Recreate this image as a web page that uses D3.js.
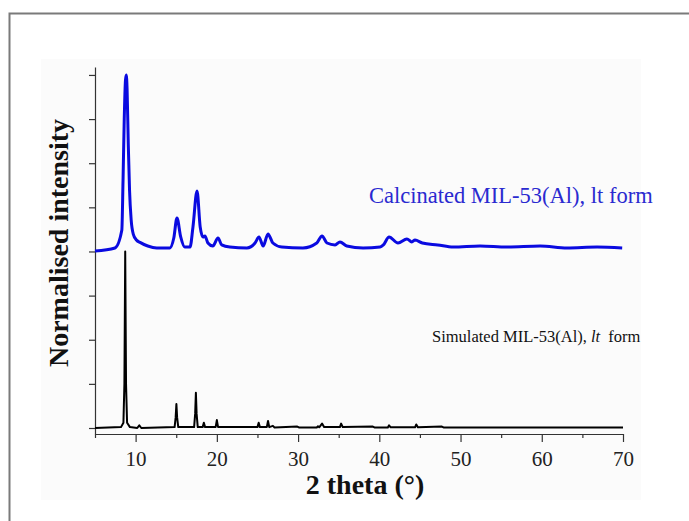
<!DOCTYPE html>
<html>
<head>
<meta charset="utf-8">
<script src="https://cdn.jsdelivr.net/npm/d3@7/dist/d3.min.js"></script>
<style>
  body { margin: 0; background: #fff; }
  svg { display: block; }
</style>
</head>
<body>
<div id="wrapper"></div>
<script>
// measured pattern points (2 theta, normalised intensity)
const calcTheta = [5.0, 7.46, 8.3, 8.45, 8.6, 8.75, 8.85, 8.95, 9.1, 9.25, 9.45, 9.7, 10.1, 10.6, 11.5, 12.6,
  14.2, 14.7, 15.09, 15.55, 16.05, 16.7, 17.06, 17.56, 17.95, 18.3, 18.54, 18.9, 19.5, 20.14, 20.6, 21.6,
  23.7, 24.7, 25.19, 25.7, 26.3, 26.9, 28.0, 30.6, 32.3, 32.95, 33.56, 34.55, 35.16, 36.0, 38.0, 40.1,
  40.5, 41.2, 42.3, 43.4, 44.0, 44.4, 45.3, 47.2, 49.1, 52.4, 55.7, 59.8, 63.1, 66.8, 69.9]
const calcIntensity = [1.003, 1.02, 1.12, 1.40, 1.75, 1.97, 2.0, 1.92, 1.6, 1.35, 1.18, 1.10, 1.065, 1.05, 1.031, 1.02,
  1.02, 1.076, 1.19, 1.082, 1.025, 1.025, 1.139, 1.343, 1.139, 1.082, 1.088, 1.048, 1.031, 1.076, 1.037, 1.025,
  1.02, 1.048, 1.082, 1.031, 1.099, 1.048, 1.025, 1.02, 1.048, 1.088, 1.048, 1.037, 1.054, 1.031, 1.02, 1.025,
  1.037, 1.082, 1.048, 1.071, 1.054, 1.065, 1.048, 1.037, 1.025, 1.031, 1.025, 1.031, 1.02, 1.025, 1.02]

const simTheta = [5.0, 8.2, 8.5, 8.62, 8.72, 8.82, 8.95, 9.3, 10.2, 10.45, 10.7, 14.8, 14.93, 15.02, 15.11, 15.25,
  17.2, 17.33, 17.42, 17.51, 17.65, 18.25, 18.4, 18.55, 19.85, 20.0, 20.15, 25.0, 25.15, 25.3, 26.15, 26.3,
  26.45, 26.9, 27.1, 29.9, 30.1, 32.3, 32.45, 32.6, 32.95, 33.2, 35.15, 35.3, 35.5, 39.2, 39.4, 41.05, 41.2,
  41.4, 44.4, 44.55, 44.75, 47.7, 47.9, 70.0]
const simIntensity = [0.0, 0.005, 0.03, 0.25, 1.0, 0.25, 0.03, 0.005, 0.0, 0.015, 0.0, 0.005, 0.06, 0.136, 0.06, 0.005,
  0.005, 0.08, 0.2, 0.08, 0.005, 0.005, 0.03, 0.005, 0.005, 0.045, 0.005, 0.005, 0.03, 0.005, 0.005, 0.04,
  0.005, 0.012, 0.003, 0.008, 0.003, 0.003, 0.01, 0.004, 0.025, 0.005, 0.005, 0.025, 0.005, 0.008, 0.003, 0.003, 0.015,
  0.004, 0.004, 0.02, 0.004, 0.008, 0.003, 0.003]

const xMajorTicks = [10, 20, 30, 40, 50, 60, 70]
const xMinorTicks = [5, 15, 25, 35, 45, 55, 65]
const yTicks = [0, 0.25, 0.5, 0.75, 1, 1.25, 1.5, 1.75, 2]

const calcLabel = "Calcinated MIL-53(Al), lt form"

const width = 689
const height = 521

const svg = d3.select("#wrapper")
  .append("svg")
  .attr("width", width)
  .attr("height", height)

// outer frame and faint panel
svg.append("rect")
  .attr("x", 9.5).attr("y", 13.5)
  .attr("width", 700).attr("height", 520)
  .attr("fill", "#fff")
  .attr("stroke", "#7a7a7a")
  .attr("stroke-width", 2)

svg.append("rect")
  .attr("x", 41).attr("y", 59)
  .attr("width", 600).attr("height", 441)
  .attr("fill", "#fbfbfb")

const xScale = d3.scaleLinear().domain([5, 70]).range([95, 623])
const yScale = d3.scaleLinear().domain([-0.034, 2.045]).range([434, 67])

const serif = "'Liberation Serif', 'Times New Roman', serif"

// axes
const yAxis = svg.append("g")
  .attr("transform", `translate(${xScale(5)},0)`)
  .call(d3.axisLeft(yScale).tickValues(yTicks).tickSize(6).tickSizeOuter(0).tickFormat(""))
yAxis.selectAll("path, line").attr("stroke", "#333").attr("stroke-width", 1.2)

const xAxis = svg.append("g")
  .attr("transform", `translate(0,${yScale(-0.034)})`)
  .call(d3.axisBottom(xScale).tickValues(xMajorTicks).tickSize(8).tickSizeOuter(0).tickPadding(9))
xAxis.selectAll("path, line").attr("stroke", "#333").attr("stroke-width", 1.2)
xAxis.selectAll("text")
  .attr("fill", "#222")
  .style("font-family", serif)
  .style("font-size", "21px")

const xMinor = svg.append("g")
  .attr("transform", `translate(0,${yScale(-0.034)})`)
  .call(d3.axisBottom(xScale).tickValues(xMinorTicks).tickSize(4).tickSizeOuter(0).tickFormat(""))
xMinor.select("path").remove()
xMinor.selectAll("line").attr("stroke", "#333").attr("stroke-width", 1.2)

// patterns
const simLine = d3.line()
  .x((d, i) => xScale(simTheta[i]))
  .y(d => yScale(d))

svg.append("path")
  .attr("d", simLine(simIntensity))
  .attr("fill", "none")
  .attr("stroke", "#000")
  .attr("stroke-width", 2)
  .attr("stroke-linejoin", "round")

const calcLine = d3.line()
  .x((d, i) => xScale(calcTheta[i]))
  .y(d => yScale(d))
  .curve(d3.curveMonotoneX)

svg.append("path")
  .attr("d", calcLine(calcIntensity))
  .attr("fill", "none")
  .attr("stroke", "#0a0ae0")
  .attr("stroke-width", 3)
  .attr("stroke-linejoin", "round")

// series labels
svg.append("text")
  .attr("x", 369).attr("y", 203)
  .attr("fill", "#2a2ad0")
  .style("font-family", serif)
  .style("font-size", "22.5px")
  .text(calcLabel)

const simText = svg.append("text")
  .attr("x", 432).attr("y", 342)
  .attr("fill", "#111")
  .style("font-family", serif)
  .style("font-size", "16.5px")
simText.append("tspan").text("Simulated MIL-53(Al), ")
simText.append("tspan").style("font-style", "italic").text("lt")
simText.append("tspan").attr("dx", 8).text("form")

// axis titles
svg.append("text")
  .attr("x", 365).attr("y", 494)
  .attr("text-anchor", "middle")
  .attr("fill", "#111")
  .style("font-family", serif)
  .style("font-weight", "bold")
  .style("font-size", "28px")
  .text("2 theta (°)")

svg.append("text")
  .attr("transform", "translate(68,243) rotate(-90)")
  .attr("text-anchor", "middle")
  .attr("fill", "#111")
  .style("font-family", serif)
  .style("font-weight", "bold")
  .style("font-size", "28px")
  .text("Normalised intensity")
</script>
</body>
</html>
